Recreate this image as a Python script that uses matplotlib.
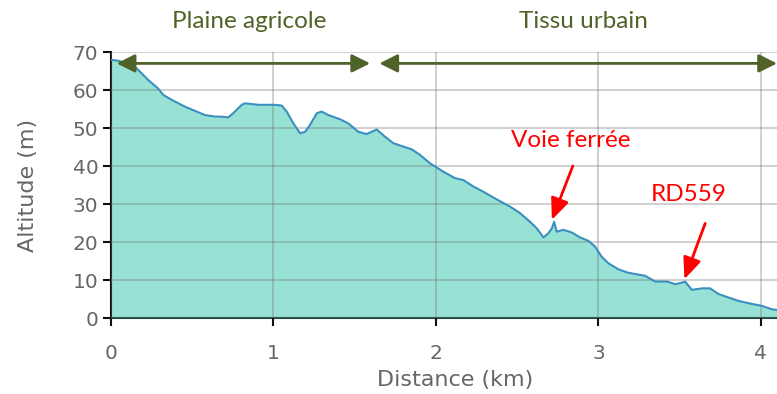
import matplotlib
matplotlib.use("Agg")
from matplotlib import pyplot as plt

# profil en long : distance (km) / altitude (m)
distance = [0.0, 0.008, 0.045, 0.10, 0.158, 0.23, 0.29, 0.322, 0.374, 0.456, 0.517,
            0.579, 0.64, 0.671, 0.722, 0.753, 0.805, 0.825, 0.866, 0.907, 1.01,
            1.051, 1.082, 1.123, 1.164, 1.195, 1.225, 1.267, 1.297, 1.338, 1.41,
            1.461, 1.523, 1.574, 1.605, 1.636, 1.687, 1.738, 1.80, 1.851, 1.903,
            1.964, 2.046, 2.118, 2.169, 2.231, 2.293, 2.375, 2.457, 2.518, 2.58,
            2.621, 2.662, 2.693, 2.714, 2.728, 2.744, 2.785, 2.837, 2.888, 2.939,
            2.98, 3.021, 3.062, 3.124, 3.185, 3.288, 3.35, 3.422, 3.473, 3.514,
            3.534, 3.576, 3.637, 3.688, 3.74, 3.801, 3.863, 3.945, 4.007, 4.068, 4.10]
altitude = [67.9, 67.9, 67.7, 67.0, 65.7, 62.6, 60.4, 58.7, 57.4, 55.6, 54.5,
            53.4, 53.0, 53.0, 52.8, 53.9, 56.1, 56.5, 56.3, 56.1, 56.1,
            55.9, 54.3, 51.2, 48.6, 49.0, 50.8, 53.9, 54.3, 53.4, 52.3,
            51.2, 49.0, 48.4, 49.0, 49.6, 47.7, 46.0, 45.1, 44.4, 42.9,
            40.7, 38.5, 36.8, 36.3, 34.6, 33.2, 31.2, 29.3, 27.6, 25.3,
            23.6, 21.2, 22.3, 23.6, 25.3, 22.7, 23.2, 22.5, 21.2, 20.3,
            18.8, 16.1, 14.4, 12.8, 11.9, 11.1, 9.6, 9.6, 8.9, 9.3,
            9.6, 7.4, 7.8, 7.8, 6.3, 5.4, 4.5, 3.7, 3.2, 2.3, 2.1]

x_ticks = [0, 1, 2, 3, 4]
y_ticks = [0, 10, 20, 30, 40, 50, 60, 70]

# zones (debut, fin, libelle, position du libelle)
zones = [(0.035, 1.595, "Plaine agricole", 0.85),
         (1.652, 4.10, "Tissu urbain", 2.91)]
zone_y = 67.0

# reperes : libelle, position du texte, queue et pointe de la fleche
reperes = [("Voie ferrée", (2.831, 46.8), (2.843, 40.0), (2.714, 25.8)),
           ("RD559", (3.559, 32.4), (3.658, 24.9), (3.530, 10.2))]

green = "#4f6228"
fill_col = "#98e2d5"
line_col = "#3a8fbf"
grey = "#666666"

fig = plt.figure(figsize=(7.77, 3.94), dpi=100)
ax = fig.add_axes([111 / 777, 1 - 318 / 394, 1 - 111 / 777, (318 - 52) / 394])

ax.fill_between(distance, altitude, 0, color=fill_col, lw=0, zorder=1)
ax.plot(distance, altitude, color=line_col, lw=1.5, zorder=3)

ax.set_xlim(0, 4.1)
ax.set_ylim(0, 70)
ax.set_xticks(x_ticks)
ax.set_yticks(y_ticks)
ax.grid(True, color="#707070", alpha=0.35, lw=1.3, zorder=2)
ax.set_axisbelow(False)

for s in ("top", "right"):
    ax.spines[s].set_visible(False)
ax.spines["left"].set_color("#111111")
ax.spines["left"].set_linewidth(1.5)
ax.spines["bottom"].set_color("#1d4a44")
ax.spines["bottom"].set_linewidth(1.5)
ax.tick_params(direction="out", length=6, width=1.5, color="#111111",
               labelcolor=grey, labelsize=14.5)
ax.tick_params(axis="x", pad=13)
ax.tick_params(axis="y", pad=3)
ax.set_xlabel("Distance (km)", fontsize=16, color=grey)
ax.xaxis.set_label_coords(0.516, -0.195)
ax.set_ylabel("Altitude (m)", fontsize=16, color=grey, labelpad=25)

for x0, x1, label, xt in zones:
    ax.annotate("", xy=(x1, zone_y), xytext=(x0, zone_y), annotation_clip=False,
                arrowprops=dict(arrowstyle="<|-|>,head_length=1.1,head_width=0.55",
                                color=green, lw=2, shrinkA=0, shrinkB=0,
                                mutation_scale=10), zorder=5)
    ax.text(xt, 1.113, label, transform=ax.get_xaxis_transform(), ha="center",
            va="center", color=green, fontsize=17.5, family="Lato")

for label, pos, tail, head in reperes:
    ax.text(pos[0], pos[1], label, ha="center", va="center", color="red",
            fontsize=17.5, family="Lato")
    ax.annotate("", xy=head, xytext=tail,
                arrowprops=dict(arrowstyle="-|>,head_length=1.3,head_width=0.55",
                                color="red", lw=2, shrinkA=0, shrinkB=0,
                                mutation_scale=10), zorder=6)

fig.savefig("out.png", dpi=100)
